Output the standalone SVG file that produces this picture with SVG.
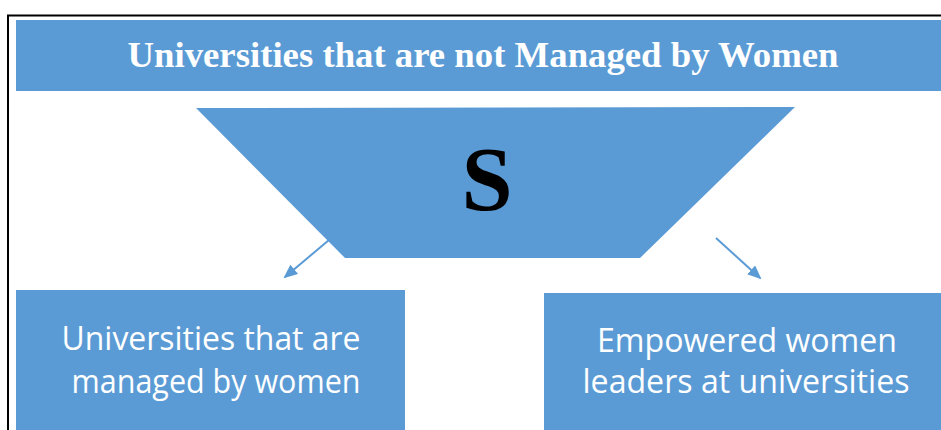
<svg xmlns="http://www.w3.org/2000/svg" width="941" height="430" viewBox="0 0 941 430">
<style>
.box{fill:#5B9BD5}
.w{fill:#fff;font-family:"Open Sans","Liberation Sans",sans-serif;font-size:33px;text-anchor:middle}
.conn{stroke:#5B9BD5;stroke-width:2;fill:none;marker-end:url(#ah)}
</style>
<defs>
<marker id="ah" markerWidth="14" markerHeight="14" refX="12" refY="6" orient="auto" markerUnits="userSpaceOnUse">
<path d="M0,0 L14,6 L0,12 Z" fill="#5B9BD5"/>
</marker>
</defs>
<rect width="941" height="430" fill="#fff"/>
<path d="M8,430 V15.5 H941" stroke="#000" stroke-width="2" fill="none"/>
<g id="title">
<rect class="box" x="16" y="20" width="925" height="71"/>
<text x="483" y="67" fill="#fff" font-family="Liberation Serif,serif" font-weight="bold" font-size="35" text-anchor="middle" textLength="711" lengthAdjust="spacingAndGlyphs">Universities that are not Managed by Women</text>
</g>
<g id="funnel">
<polygon class="box" points="196,108 795,107 640,258 345,258"/>
<text x="487" y="210" fill="#000" font-family="Liberation Serif,serif" font-weight="bold" font-size="92" text-anchor="middle">S</text>
</g>
<g id="left">
<rect class="box" x="16" y="290" width="389" height="140"/>
<text class="w" x="211" y="350" textLength="299" lengthAdjust="spacingAndGlyphs">Universities that are</text>
<text class="w" x="216" y="393" textLength="289" lengthAdjust="spacingAndGlyphs">managed by women</text>
</g>
<g id="right">
<rect class="box" x="544" y="293" width="397" height="137"/>
<text class="w" x="747" y="352" textLength="300" lengthAdjust="spacingAndGlyphs">Empowered women</text>
<text class="w" x="746" y="393" textLength="327" lengthAdjust="spacingAndGlyphs">leaders at universities</text>
</g>
<g id="connectors">
<line class="conn" x1="329" y1="240" x2="285" y2="277"/>
<line class="conn" x1="716" y1="238" x2="760" y2="278"/>
</g>
</svg>
